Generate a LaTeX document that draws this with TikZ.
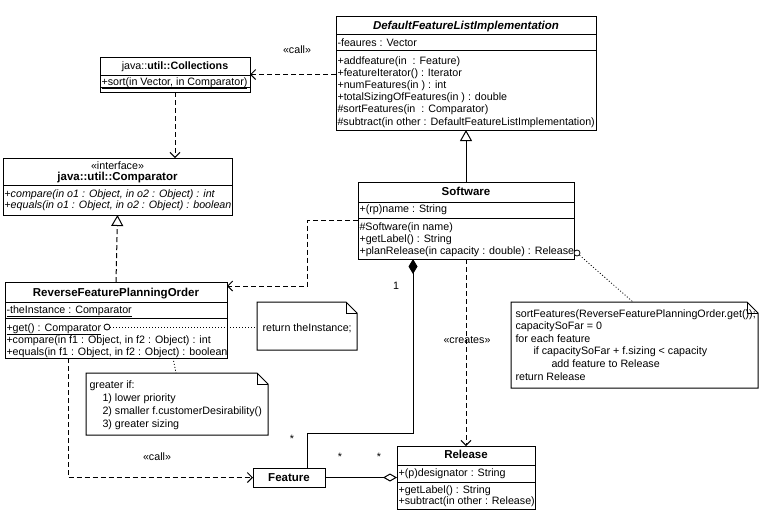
\documentclass[tikz,border=0pt]{standalone}
\usepackage{fontspec}
\setmainfont{Liberation Sans}
\usetikzlibrary{arrows.meta,calc}
\newcommand\fs{\fontsize{10.7pt}{12.2pt}\selectfont}
\newcommand\fb{\fontsize{11.5pt}{12.2pt}\selectfont\bfseries}
\newcommand\lns[1]{\begin{tabular}[t]{@{}l@{}}#1\end{tabular}}
\newcommand\mynote[1]{%
  \draw[fill=white] (#1.south west) -- (#1.north west) -- ([xshift=-11pt]#1.north east) -- ([yshift=-11pt]#1.north east) -- (#1.south east) -- cycle;
  \draw ([xshift=-11pt]#1.north east) |- ([yshift=-11pt]#1.north east);}
\newcommand\mysep[2]{\draw ([yshift=-#2pt]#1.north west) -- ([yshift=-#2pt]#1.north east);}
\begin{document}
\begin{tikzpicture}[x=1pt,y=-1pt, line width=1pt,
  box/.style={draw, anchor=north west, inner sep=0pt, outer sep=0pt, fill=white},
  ghost/.style={anchor=north west, inner sep=0pt, outer sep=0pt},
  txt/.style={anchor=base west, inner sep=0pt, font=\fs},
  ttl/.style={anchor=base, inner sep=0pt, font=\fb},
  lbl/.style={inner sep=0pt, font=\fs},
  dep/.style={dash pattern=on 5pt off 3pt, -{Straight Barb[length=5pt,width=10pt]}},
  dotl/.style={line width=0.8pt, dash pattern=on 1pt off 2pt},
  lolli/.style={circle, draw, fill=white, minimum size=6pt, inner sep=0pt, line width=0.8pt},
]
\useasboundingbox[fill=white] (0,0) rectangle (762,515);

% DefaultFeatureListImplementation
\node[box, minimum width=260pt, minimum height=114pt] (dfli) at (336,16) {};
\mysep{dfli}{18}\mysep{dfli}{34}
\node[ttl, font=\fb\itshape] (dfli-n) at (466,29) {DefaultFeatureListImplementation};
\node[txt] (dfli-a) at (337,46) {-feaures : Vector};
\node[txt] (dfli-m) at (337,64) {\lns{+addfeature(in~ : Feature)\\+featureIterator() : Iterator\\+numFeatures(in ) : int\\+totalSizingOfFeatures(in ) : double\\\#sortFeatures(in~ : Comparator)\\\#subtract(in other : DefaultFeatureListImplementation)}};

% Collections
\node[box, minimum width=150pt, minimum height=35pt] (coll) at (100,57) {};
\mysep{coll}{18}\mysep{coll}{30}
\node[ttl, font=\fs] (coll-n) at (175,69) {java::\textbf{util::Collections}};
\node[txt] (coll-m) at (101,85) {\underline{+sort(in Vector, in Comparator)}};

% Comparator
\node[box, minimum width=229pt, minimum height=57pt] (comp) at (3,158) {};
\mysep{comp}{27}
\node[ttl, font=\fs] (comp-s) at (117.5,169) {«interface»};
\node[ttl] (comp-n) at (117.5,180) {java::util::Comparator};
\node[txt, font=\fontsize{10.7pt}{11.7pt}\selectfont\itshape] (comp-m) at (4,197) {\lns{+compare(in o1 : Object, in o2 : Object) : int\\+equals(in o1 : Object, in o2 : Object) : boolean}};

% Software
\node[box, minimum width=216pt, minimum height=77pt] (soft) at (358,182) {};
\mysep{soft}{20}\mysep{soft}{36}
\node[ttl] (soft-n) at (466,195) {Software};
\node[txt] (soft-a) at (359,212) {+(rp)name : String};
\node[txt] (soft-m) at (359,230) {\lns{\#Software(in name)\\+getLabel() : String\\+planRelease(in capacity : double) : Release}};

% ReverseFeaturePlanningOrder
\node[box, minimum width=222pt, minimum height=76pt] (rfpo) at (5,282) {};
\mysep{rfpo}{20}\mysep{rfpo}{36}
\node[ttl] (rfpo-n) at (116,296) {ReverseFeaturePlanningOrder};
\node[txt] (rfpo-a) at (6,313) {\underline{-theInstance : Comparator}};
\node[txt] (rfpo-m) at (6,331) {\lns{\underline{+get() : Comparator}\\+compare(in f1 : Object, in f2 : Object) : int\\+equals(in f1 : Object, in f2 : Object) : boolean}};

% Feature
\node[box, minimum width=72pt, minimum height=19pt, font=\fb] (feat) at (253,468) {Feature};

% Release
\node[box, minimum width=138pt, minimum height=63pt] (rel) at (397,446) {};
\mysep{rel}{19}\mysep{rel}{36}
\node[ttl] (rel-n) at (466,458) {Release};
\node[txt] (rel-a) at (398,476) {+(p)designator : String};
\node[txt, font=\fontsize{10.7pt}{11.7pt}\selectfont] (rel-m) at (398,493) {\lns{+getLabel() : String\\+subtract(in other : Release)}};

% Notes
\node[ghost, minimum width=100pt, minimum height=48pt] (ret) at (257,302) {};
\mynote{ret}
\node[txt] (ret-t) at (262,331) {return theInstance;};

\node[ghost, minimum width=247pt, minimum height=86pt] (sortn) at (511,302) {};
\mynote{sortn}
\node[txt, font=\fontsize{10.7pt}{12.6pt}\selectfont] (sortn-t) at (515,317) {\lns{sortFeatures(ReverseFeaturePlanningOrder.get());\\capacitySoFar = 0\\for each feature\\\hspace*{18pt}if capacitySoFar + f.sizing < capacity\\\hspace*{36pt}add feature to Release\\return Release}};

\node[ghost, minimum width=182pt, minimum height=62pt] (gt) at (86,373) {};
\mynote{gt}
\node[txt, font=\fontsize{10.7pt}{13pt}\selectfont] (gt-t) at (89,388) {\lns{greater if:\\\hspace*{13pt}1) lower priority\\\hspace*{13pt}2) smaller f.customerDesirability()\\\hspace*{13pt}3) greater sizing}};

% lollipops
\node[lolli] (c1) at (577,253) {};
\node[lolli] (c2) at (107,327) {};
\coordinate (k2) at (633,302);
\draw[dotl] (c1) -- (k2);
\draw[dotl] (c2) -- (c2 -| ret.west);
\draw[dotl] ([xshift=57pt]rfpo.south) -- ([xshift=90pt]gt.north west);

% connectors
\draw[dep] (coll.east -| dfli.west) -- (coll.east);
\draw[dep] (coll.south) -- (coll.south |- comp.north);
\draw[dash pattern=on 5pt off 3pt, -{Triangle[open,length=11pt,width=12pt]}] (rfpo.north) -- (comp.south);
\draw[-{Triangle[open,length=11pt,width=12pt]}] (soft.north) -- (dfli.south);
\draw[dep] (soft.west) -- ++(-51,0) |- ([yshift=-4pt]rfpo.north east);
\draw[dep] ([xshift=-48pt]rfpo.south) |- (feat.west);
\draw[dep] (soft.south -| rel.north) -- (rel.north);
\draw[{Diamond[length=15pt,width=9pt]}-] ([xshift=-53pt]soft.south) -- ++(0,174) -| ([xshift=18pt]feat.north);
\draw[-{Diamond[open,length=14pt,width=8pt]}] (feat.east) -- (feat.east -| rel.west);

% labels
\node[lbl] (l-call1) at (297,50) {«call»};
\node[lbl] (l-call2) at (157,457) {«call»};
\node[lbl] (l-creates) at (467,340) {«creates»};
\node[lbl] (l-one) at (396,286) {1};
\node[lbl] (l-s1) at (292,439) {*};
\node[lbl] (l-s2) at (340,457) {*};
\node[lbl] (l-s3) at (379,457) {*};
\end{tikzpicture}
\end{document}
